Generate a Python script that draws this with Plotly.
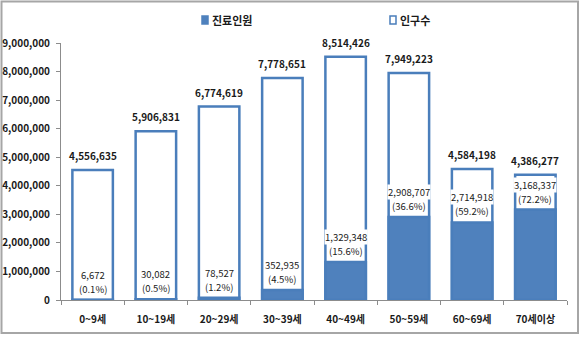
import plotly.graph_objects as go

# Age groups, population and number of patients treated
age_groups = ["0~9세", "10~19세", "20~29세", "30~39세", "40~49세", "50~59세", "60~69세", "70세이상"]
population = [4556635, 5906831, 6774619, 7778651, 8514426, 7949223, 4584198, 4386277]
patients = [6672, 30082, 78527, 352935, 1329348, 2908707, 2714918, 3168337]
y_ticks = [0, 1000000, 2000000, 3000000, 4000000, 5000000, 6000000, 7000000, 8000000, 9000000]

BLUE = "#4f81bd"
EDGE = "#4a7ebb"
FONT = "Noto Sans CJK KR"

W, H = 580, 338
ML, MR, MT, MB = 61, 13, 43, 38
PW, PH = W - ML - MR, H - MT - MB


def px(x):
    return (x - ML) / PW


def py(y):
    return (H - MB - y) / PH


fig = go.Figure()
fig.add_trace(go.Bar(
    x=age_groups, y=population, name="인구수", width=0.64,
    marker=dict(color="white", line=dict(color=EDGE, width=2.5)),
))
fig.add_trace(go.Bar(
    x=age_groups, y=patients, name="진료인원", width=0.64,
    marker=dict(color=BLUE, line=dict(color=EDGE, width=2.5)),
))

annotations = []
label_font = dict(family=FONT, size=9.5, color="#1a1a1a")
for cat, pop, pat in zip(age_groups, population, patients):
    # population total above each bar
    annotations.append(dict(
        x=cat, y=pop, xref="x", yref="y", yanchor="bottom", yshift=5,
        text=f"{pop:,}", showarrow=False,
        font=dict(family=FONT, size=10, color="#1a1a1a", weight="bold"),
    ))
    # patient count and share, stacked just above the patient bar
    annotations.append(dict(
        x=cat, y=pat, xref="x", yref="y", yanchor="bottom", yshift=3,
        text=f"({pat / pop * 100:.1f}%)", showarrow=False,
        bgcolor="white", borderpad=0, font=label_font,
    ))
    annotations.append(dict(
        x=cat, y=pat, xref="x", yref="y", yanchor="bottom", yshift=17,
        text=f"{pat:,}", showarrow=False,
        bgcolor="white", borderpad=0, font=label_font,
    ))

# Legend keys drawn as small squares with labels
legend_items = [("진료인원", BLUE, BLUE, 202), ("인구수", "white", EDGE, 390)]
shapes = []
for label, fill, edge, left in legend_items:
    shapes.append(dict(
        type="rect", xref="paper", yref="paper",
        x0=px(left), x1=px(left + 6), y0=py(24), y1=py(16),
        fillcolor=fill, line=dict(color=edge, width=1.5),
    ))
    annotations.append(dict(
        x=px(left + 8), y=py(20), xref="paper", yref="paper",
        xanchor="left", yanchor="middle", text=label, showarrow=False,
        font=dict(family=FONT, size=11, color="#1a1a1a", weight="bold"),
    ))

# Outer frame around the whole chart
shapes.append(dict(
    type="rect", xref="paper", yref="paper",
    x0=px(1.5), x1=px(578), y0=py(333), y1=py(1.5),
    line=dict(color="#a6a6a6", width=2), fillcolor="rgba(0,0,0,0)", layer="below",
))

fig.update_layout(
    width=W, height=H,
    margin=dict(l=ML, r=MR, t=MT, b=MB, autoexpand=False),
    barmode="overlay",
    showlegend=False,
    plot_bgcolor="white", paper_bgcolor="white",
    annotations=annotations, shapes=shapes,
    font=dict(family=FONT, color="#1a1a1a"),
)
fig.update_xaxes(
    automargin=False,
    showline=True, linecolor="#8c8c8c", linewidth=1,
    ticks="outside", tickson="boundaries", ticklen=4, tickcolor="#8c8c8c",
    ticklabelstandoff=10,
    tickfont=dict(family=FONT, size=10, color="#1a1a1a", weight="bold"),
    showgrid=False,
)
fig.update_yaxes(
    automargin=False,
    range=[0, 9000000], tickvals=y_ticks, tickformat=",d",
    showline=True, linecolor="#8c8c8c", linewidth=1,
    ticks="outside", ticklen=4, tickcolor="#8c8c8c", ticklabelstandoff=4,
    tickfont=dict(family=FONT, size=10, color="#1a1a1a", weight="bold"),
    showgrid=False, zeroline=False,
)

fig.write_html("out.html")
